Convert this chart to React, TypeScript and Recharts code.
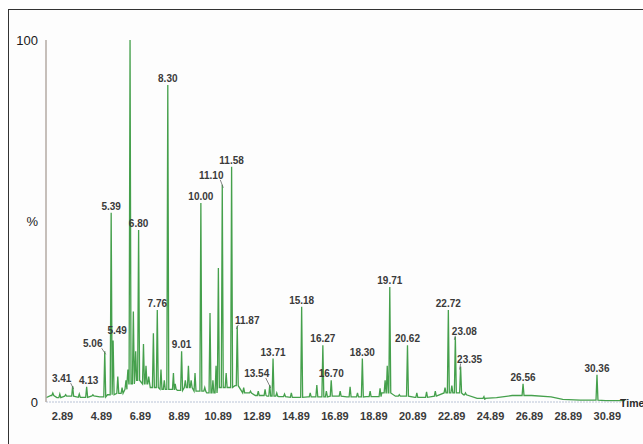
import React from "react";
import {
  ComposedChart,
  Line,
  Scatter,
  XAxis,
  YAxis,
} from "recharts";

// retention-time ticks along the bottom
const timeTicks = [
  2.89, 4.89, 6.89, 8.89, 10.89, 12.89, 14.89, 16.89, 18.89, 20.89, 22.89,
  24.89, 26.89, 28.89, 30.89,
];

// annotated peaks: retention time label and relative abundance (%)
const peakLabels = [
  "3.41", "4.13", "5.06", "5.39", "5.49", "6.80", "7.76", "8.30", "9.01",
  "10.00", "11.10", "11.58", "11.87", "13.54", "13.71", "15.18", "16.27",
  "16.70", "18.30", "19.71", "20.62", "22.72", "23.08", "23.35", "26.56",
  "30.36",
];
const peakHeights = [
  4.4, 4.2, 14, 52.3, 17, 47.5, 25.4, 87.6, 14, 55, 60, 65, 21, 4.7, 12,
  26.3, 15.7, 6, 12, 31.8, 15.7, 25.4, 18, 9.8, 5, 7.5,
];

// smaller unannotated peaks
const minorTimes = [
  2.39, 2.75, 3.05, 3.75, 4.45, 5.73, 5.95, 6.15, 6.25, 6.36, 6.53, 6.65,
  7.05, 7.18, 7.32, 7.56, 7.95, 8.12, 8.59, 8.68, 9.2, 9.36, 9.5, 9.7, 10.2,
  10.47, 10.62, 10.78, 10.9, 11.3, 12.2, 12.55, 12.95, 13.3, 13.9, 14.3,
  14.65, 15.62, 15.96, 16.45, 17.16, 17.67, 18.05, 18.7, 19.21, 19.47, 19.58,
  20.2, 21.1, 21.6, 22.05, 22.55, 22.9, 23.6, 24.55,
];
const minorHeights = [
  2.5, 2.2, 2, 2.2, 2, 7, 4, 6, 9, 100, 25, 14, 16, 10, 7, 19, 9, 6, 8, 5, 6,
  10, 6, 8, 4, 24.6, 6, 10, 37, 8, 4, 3, 3, 3.5, 2.5, 2.2, 2.5, 2.5, 4.7, 3, 3,
  4.2, 2.5, 3, 3.8, 6, 10, 2, 2.5, 2.8, 3, 4, 4.5, 2.5, 1.5,
];

// slowly drifting baseline under the peaks
const baselineTimes = [
  2.04, 2.3, 2.6, 3.0, 3.7, 4.4, 4.8, 5.2, 5.7, 6.0, 6.2, 6.6, 7.0, 7.4, 7.9,
  8.4, 8.8, 9.2, 9.7, 10.3, 10.8, 11.3, 11.75, 12.2, 12.8, 13.4, 14.0, 14.6,
  15.5, 16.5, 17.5, 18.5, 19.3, 20.0, 21.0, 22.0, 22.5, 23.5, 24.2, 24.6,
  25.2, 26.0, 27.0, 28.0, 28.6, 29.5, 30.8, 31.8,
];
const baselineLevels = [
  1.2, 1.8, 1.2, 1.6, 1.3, 1.7, 1.4, 2.0, 2.4, 3.5, 5, 6, 5, 4, 3.5, 3.5, 3.2,
  4, 3, 2.5, 4, 4, 4.5, 2.5, 1.8, 1.6, 1.5, 1.3, 1.4, 1.6, 1.4, 1.5, 2.5, 1.6,
  1.3, 1.6, 2.5, 2.0, 1.0, 0.6, 1.2, 1.8, 1.8, 1.4, 0.7, 0.5, 0.4, 0.4,
];

const HALF_WIDTH = 0.05;
const GREEN = "#45a04c";
const FONT = "'Liberation Sans', Arial, sans-serif";

// label nudges [dx, dy] for labels set beside their peak
const LABEL_NUDGE: Record<string, [number, number]> = {
  "3.41": [-11, -4],
  "4.13": [2, -3],
  "5.06": [-12, -4],
  "5.49": [4, -6],
  "11.10": [-11, -6],
  "11.87": [10, -2],
  "13.54": [-13, -8],
  "23.08": [9, -2],
  "23.35": [9, -4],
};

function baseAt(t: number) {
  let level = baselineLevels[0];
  for (let i = 0; i < baselineTimes.length; i++) {
    if (baselineTimes[i] <= t) level = baselineLevels[i];
  }
  return level;
}

const peaks = [
  ...peakLabels.map((s, i) => ({ t: parseFloat(s), h: peakHeights[i] })),
  ...minorTimes.map((t, i) => ({ t, h: minorHeights[i] })),
];

const trace: { t: number; v: number }[] = [];
baselineTimes.forEach((t, i) => {
  if (!peaks.some((p) => Math.abs(p.t - t) <= HALF_WIDTH)) {
    trace.push({ t, v: baselineLevels[i] });
  }
});
peaks.forEach((p) => {
  trace.push({ t: p.t - HALF_WIDTH, v: baseAt(p.t) });
  trace.push({ t: p.t, v: p.h });
  trace.push({ t: p.t + HALF_WIDTH, v: baseAt(p.t) });
});
trace.sort((a, b) => a.t - b.t);

const labelled = peakLabels.map((label, i) => ({
  t: parseFloat(label),
  v: peakHeights[i],
  label,
}));

function PeakLabel(props: any) {
  const { cx, cy, payload } = props;
  if (cx == null || cy == null) return null;
  const nudge = LABEL_NUDGE[payload.label];
  const dx = nudge ? nudge[0] : 0;
  const dy = nudge ? nudge[1] : -3;
  const side = dx < 0 ? 1 : -1;
  return (
    <g>
      {nudge && Math.abs(dx) > 4 && (
        <line
          x1={cx + dx + side * 9}
          y1={cy + dy + 1}
          x2={cx + side * 1}
          y2={cy + 3}
          stroke="#666"
          strokeWidth={0.8}
        />
      )}
      <text
        x={cx + dx}
        y={cy + dy}
        textAnchor="middle"
        fontSize={10}
        fontWeight="bold"
        fontFamily={FONT}
        fill="#3a3a3a"
      >
        {payload.label}
      </text>
    </g>
  );
}

export default function App() {
  return (
    <div
      style={{
        position: "absolute",
        left: 0,
        top: 0,
        width: 643,
        height: 444,
        overflow: "hidden",
        background: "#fff",
      }}
    >
      <div
        style={{
          position: "absolute",
          left: 8,
          top: 9,
          width: 700,
          height: 500,
          border: "1.5px solid #333",
          background: "#fdfdfd",
        }}
      />
      <div style={{ position: "absolute", left: 0, top: 0 }}>
        <ComposedChart
          width={643}
          height={444}
          data={trace}
          margin={{ top: 40, right: 18, bottom: 12, left: 6 }}
        >
          <XAxis
            dataKey="t"
            type="number"
            domain={[2.04, 31.8]}
            ticks={timeTicks}
            interval={0}
            allowDataOverflow
            height={30}
            tickLine={false}
            tickMargin={4}
            axisLine={{ stroke: "#b9c3d6", strokeDasharray: "2 1" }}
            tick={{
              fontSize: 11,
              fontWeight: "bold",
              fill: "#3a3a3a",
              fontFamily: FONT,
            }}
            tickFormatter={(v: number) => v.toFixed(2)}
          />
          <YAxis
            type="number"
            domain={[0, 100]}
            ticks={[0, 50, 100]}
            width={40}
            tickLine={false}
            axisLine={{ stroke: "#b3aaa3", strokeWidth: 1.5 }}
            tick={{ fontSize: 13, fill: "#1a1a1a", fontFamily: FONT }}
            tickFormatter={(v: number) => (v === 50 ? "%" : String(v))}
          />
          <Line
            dataKey="v"
            type="linear"
            stroke={GREEN}
            strokeWidth={1.3}
            dot={false}
            isAnimationActive={false}
          />
          <Scatter
            data={labelled}
            dataKey="v"
            shape={PeakLabel}
            isAnimationActive={false}
          />
        </ComposedChart>
      </div>
      <span
        style={{
          position: "absolute",
          left: 620,
          top: 397,
          fontSize: 10.5,
          lineHeight: "12px",
          fontWeight: "bold",
          fontFamily: FONT,
          color: "#2a2a2a",
          whiteSpace: "nowrap",
        }}
      >
        Time
      </span>
    </div>
  );
}
